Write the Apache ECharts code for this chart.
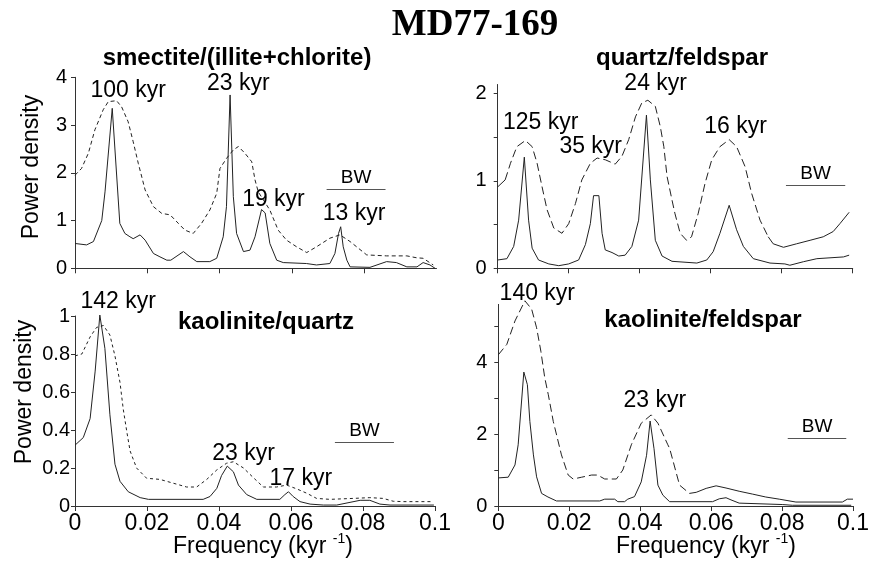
<!DOCTYPE html>
<html>
<head>
<meta charset="utf-8">
<script src="https://cdn.jsdelivr.net/npm/echarts@6/dist/echarts.min.js"></script>
<style>
  html, body { margin: 0; padding: 0; background: #fff; }
  #chart { width: 872px; height: 571px; }
</style>
</head>
<body>
<div id="chart"></div>
<script>
// MD77-169: spectral power density of mineral ratios versus frequency (kyr^-1).
// Each curve is a list of [frequency, power density] pairs.

const smectiteSolid = [[0,0.52],[0.0032,0.49],[0.0051,0.56],[0.0074,1.0],[0.0083,1.6],[0.0103,3.35],[0.0124,0.94],[0.0138,0.73],[0.0152,0.66],[0.0161,0.62],[0.0180,0.70],[0.0194,0.59],[0.0217,0.31],[0.0235,0.24],[0.0254,0.17],[0.0265,0.17],[0.0300,0.35],[0.0318,0.24],[0.0337,0.14],[0.0373,0.14],[0.0392,0.21],[0.0410,0.66],[0.0419,1.29],[0.0429,3.63],[0.0438,1.50],[0.0447,0.73],[0.0466,0.35],[0.0484,0.38],[0.0498,0.66],[0.0516,1.23],[0.0526,1.16],[0.0539,0.52],[0.0558,0.17],[0.0576,0.12],[0.0640,0.10],[0.0668,0.07],[0.0705,0.10],[0.0719,0.31],[0.0729,0.73],[0.0735,0.87],[0.0742,0.45],[0.0752,0.17],[0.0761,0.03],[0.0816,0.02],[0.0862,0.14],[0.0889,0.12],[0.0918,0.03],[0.0946,0.03],[0.0963,0.12],[0.0982,0.07],[0.0996,0.0]];
const smectiteDashed = [[0,1.95],[0.0018,2.09],[0.0037,2.41],[0.0055,2.90],[0.0078,3.32],[0.0092,3.49],[0.0115,3.51],[0.0129,3.38],[0.0147,3.07],[0.0161,2.65],[0.0175,2.20],[0.0194,1.64],[0.0217,1.29],[0.0240,1.15],[0.0263,1.12],[0.0286,0.94],[0.0304,0.80],[0.0327,0.73],[0.0350,0.94],[0.0373,1.22],[0.0392,1.57],[0.0401,2.09],[0.0419,2.30],[0.0438,2.48],[0.0452,2.55],[0.0470,2.41],[0.0489,2.23],[0.0498,1.85],[0.0507,1.60],[0.0539,1.22],[0.0562,0.80],[0.0585,0.59],[0.0613,0.45],[0.0641,0.33],[0.0668,0.45],[0.0705,0.63],[0.0733,0.70],[0.0761,0.56],[0.0779,0.45],[0.0807,0.28],[0.0862,0.26],[0.0918,0.26],[0.0945,0.22],[0.0963,0.21],[0.0991,0.07]];

const quartzFeldsparSolid = [[0,0.095],[0.0026,0.11],[0.0045,0.25],[0.0059,0.55],[0.0075,1.27],[0.0087,0.55],[0.0097,0.23],[0.0115,0.095],[0.0144,0.05],[0.0172,0.03],[0.0200,0.05],[0.0228,0.095],[0.0247,0.27],[0.0261,0.51],[0.0270,0.83],[0.0285,0.83],[0.0294,0.40],[0.0303,0.21],[0.0322,0.18],[0.0341,0.14],[0.0359,0.15],[0.0378,0.25],[0.0397,0.55],[0.0419,1.75],[0.0430,1.01],[0.0444,0.32],[0.0463,0.14],[0.0491,0.08],[0.0561,0.06],[0.0589,0.095],[0.0607,0.19],[0.0626,0.40],[0.0652,0.72],[0.0673,0.44],[0.0692,0.25],[0.0720,0.11],[0.0767,0.06],[0.0809,0.05],[0.0823,0.035],[0.0861,0.075],[0.0899,0.11],[0.0974,0.13],[0.0990,0.15]];
const quartzFeldsparDashed = [[0,0.93],[0.0021,1.01],[0.0036,1.20],[0.0054,1.39],[0.0078,1.46],[0.0097,1.39],[0.0111,1.20],[0.0125,0.93],[0.0139,0.67],[0.0158,0.46],[0.0181,0.40],[0.0200,0.51],[0.0219,0.74],[0.0237,1.01],[0.0261,1.20],[0.0280,1.26],[0.0303,1.24],[0.0331,1.19],[0.0350,1.28],[0.0369,1.47],[0.0388,1.73],[0.0406,1.89],[0.0423,1.92],[0.0444,1.85],[0.0458,1.62],[0.0468,1.39],[0.0477,1.05],[0.0491,0.78],[0.0499,0.63],[0.0514,0.40],[0.0532,0.32],[0.0546,0.36],[0.0565,0.63],[0.0584,0.97],[0.0603,1.24],[0.0626,1.39],[0.0652,1.47],[0.0673,1.39],[0.0697,1.16],[0.0715,0.86],[0.0739,0.55],[0.0762,0.36],[0.0776,0.28],[0.0805,0.24],[0.0842,0.28],[0.0880,0.32],[0.0917,0.36],[0.0945,0.42],[0.0964,0.51],[0.0990,0.64]];

const kaoliniteQuartzSolid = [[0,0.32],[0.0023,0.36],[0.0042,0.46],[0.0056,0.71],[0.0069,1.005],[0.0083,0.83],[0.0097,0.48],[0.0111,0.22],[0.0125,0.13],[0.0148,0.075],[0.0181,0.044],[0.0204,0.035],[0.0356,0.035],[0.0375,0.05],[0.0394,0.093],[0.0407,0.16],[0.0423,0.21],[0.0440,0.18],[0.0454,0.11],[0.0477,0.06],[0.0505,0.035],[0.0569,0.035],[0.0583,0.06],[0.0593,0.075],[0.0606,0.05],[0.0625,0.023],[0.0653,0.01],[0.0690,0.005],[0.0727,0.005],[0.0792,0.03],[0.0819,0.03],[0.0847,0.01],[0.0875,0.005],[0.0997,0.005]];
const kaoliniteQuartzDashed = [[0,0.79],[0.0019,0.80],[0.0042,0.89],[0.0060,0.94],[0.0079,0.95],[0.0097,0.90],[0.0111,0.79],[0.0125,0.65],[0.0134,0.51],[0.0144,0.39],[0.0153,0.29],[0.0171,0.20],[0.0199,0.146],[0.0236,0.14],[0.0273,0.12],[0.0310,0.10],[0.0338,0.10],[0.0366,0.14],[0.0394,0.19],[0.0421,0.225],[0.0440,0.233],[0.0468,0.20],[0.0495,0.15],[0.0523,0.10],[0.0560,0.10],[0.0588,0.11],[0.0616,0.09],[0.0644,0.067],[0.0671,0.04],[0.0708,0.035],[0.0773,0.04],[0.0819,0.044],[0.0856,0.04],[0.0884,0.025],[0.0912,0.023],[0.0995,0.023]];

const kaoliniteFeldsparSolid = [[0,0.78],[0.0028,0.80],[0.0047,1.14],[0.0056,1.70],[0.0072,3.72],[0.0082,3.37],[0.0089,2.35],[0.0099,1.42],[0.0108,0.81],[0.0122,0.35],[0.0140,0.25],[0.0164,0.14],[0.0286,0.14],[0.0300,0.19],[0.0328,0.19],[0.0337,0.12],[0.0356,0.12],[0.0365,0.19],[0.0384,0.26],[0.0403,0.67],[0.0418,1.41],[0.0428,2.36],[0.0439,1.59],[0.0450,0.58],[0.0464,0.30],[0.0483,0.12],[0.0604,0.12],[0.0623,0.20],[0.0642,0.23],[0.0656,0.17],[0.0679,0.08],[0.0802,0.04],[0.0829,0.02],[0.0995,0.02]];
const kaoliniteFeldsparDashed = [[0,4.2],[0.0024,4.49],[0.0047,5.14],[0.0075,5.70],[0.0094,5.47],[0.0108,4.95],[0.0120,4.30],[0.0131,3.56],[0.0141,3.09],[0.0155,2.35],[0.0178,1.42],[0.0197,0.86],[0.0211,0.75],[0.0235,0.80],[0.0263,0.86],[0.0280,0.86],[0.0300,0.75],[0.0333,0.75],[0.0351,1.0],[0.0375,1.70],[0.0403,2.30],[0.0431,2.53],[0.0450,2.30],[0.0478,1.70],[0.0483,1.60],[0.0511,0.58],[0.0539,0.35],[0.0558,0.38],[0.0586,0.49],[0.0614,0.56],[0.0642,0.50],[0.0679,0.41],[0.0717,0.33],[0.0754,0.25],[0.0792,0.19],[0.0839,0.11],[0.0970,0.11],[0.0984,0.19],[0.1,0.19]];

// Peak periods named on each panel
const peaksSmectite = ['100 kyr', '23 kyr', '19 kyr', '13 kyr'];
const peaksQuartzFeldspar = ['125 kyr', '35 kyr', '24 kyr', '16 kyr'];
const peaksKaoliniteQuartz = ['142 kyr', '23 kyr', '17 kyr'];
const peaksKaoliniteFeldspar = ['140 kyr', '23 kyr'];

// Bandwidth (start, end frequency) of each spectrum
const bandwidths = [[0.0696, 0.0859], [0.0812, 0.0979], [0.0722, 0.0886], [0.0816, 0.0981]];

// Axis ticks and labels
const freqTicksFull = [0, 0.02, 0.04, 0.06, 0.08, 0.1];
const freqTicksShort = [0, 0.02, 0.04, 0.06, 0.08];
const powerTicksSmectite = [0, 1, 2, 3, 4];
const powerTicksQuartzFeldspar = [0, 0.5, 1, 1.5, 2];
const powerLabelsQuartzFeldspar = [0, 1, 2];
const powerTicksKaoliniteQuartz = [0, 0.2, 0.4, 0.6, 0.8, 1];
const powerTicksKaoliniteFeldspar = [0, 1, 2, 3, 4, 5];
const powerLabelsKaoliniteFeldspar = [0, 2, 4];

const SANS = 'Liberation Sans, Arial, Helvetica, sans-serif';
const INK = '#222';

// Layout of the four panels
const panels = [
  {
    title: 'smectite/(illite+chlorite)', titleAt: [237, 58],
    solid: smectiteSolid, dashed: smectiteDashed, dash: [4, 3], solidBefore: -1, solidAfter: 2,
    grid: { left: 75, top: 77.3, width: 361.5, height: 191 },
    yMax: 4, yTicks: powerTicksSmectite, yLabels: powerTicksSmectite, yMargin: 8,
    xTicks: freqTicksShort, showX: false,
    peaks: peaksSmectite, peakAt: [[0.0147, 3.73], [0.0452, 3.87], [0.0549, 1.43], [0.0772, 1.15]],
    bw: bandwidths[0], bwLevel: 1.65
  },
  {
    title: 'quartz/feldspar', titleAt: [682, 58],
    solid: quartzFeldsparSolid, dashed: quartzFeldsparDashed, dash: [8, 4], solidBefore: 0.0021, solidAfter: 0.0762,
    grid: { left: 497.7, top: 84.5, width: 355, height: 183.8 },
    yMax: 2.1, yTicks: powerTicksQuartzFeldspar, yLabels: powerLabelsQuartzFeldspar, yMargin: 11,
    xTicks: freqTicksFull, showX: false,
    peaks: peaksQuartzFeldspar, peakAt: [[0.0121, 1.66], [0.0262, 1.39], [0.0445, 2.11], [0.0670, 1.62]],
    bw: bandwidths[1], bwLevel: 0.95
  },
  {
    title: 'kaolinite/quartz', titleAt: [266, 322],
    solid: kaoliniteQuartzSolid, dashed: kaoliniteQuartzDashed, dash: [3, 3], solidBefore: -1, solidAfter: 2,
    grid: { left: 75, top: 316, width: 360, height: 190 },
    yMax: 1, yTicks: powerTicksKaoliniteQuartz, yLabels: powerTicksKaoliniteQuartz, yMargin: 5,
    xTicks: freqTicksFull, showX: true,
    peaks: peaksKaoliniteQuartz, peakAt: [[0.0120, 1.075], [0.0468, 0.277], [0.0627, 0.146]],
    bw: bandwidths[2], bwLevel: 0.335
  },
  {
    title: 'kaolinite/feldspar', titleAt: [703, 320],
    solid: kaoliniteFeldsparSolid, dashed: kaoliniteFeldsparDashed, dash: [8, 4], solidBefore: -1, solidAfter: 0.0539,
    grid: { left: 498.3, top: 304.4, width: 355.6, height: 201.6 },
    yMax: 5.6, yTicks: powerTicksKaoliniteFeldspar, yLabels: powerLabelsKaoliniteFeldspar, yMargin: 11,
    xTicks: freqTicksFull, showX: true,
    peaks: peaksKaoliniteFeldspar, peakAt: [[0.0110, 5.89], [0.0441, 2.94]],
    bw: bandwidths[3], bwLevel: 1.88
  }
];

const lineBase = (i, data, lineType) => ({
  type: 'line', xAxisIndex: i, yAxisIndex: i, data,
  symbol: 'none', showSymbol: false, clip: false, silent: true, z: 3,
  lineStyle: { color: INK, width: 1, type: lineType }
});

const grids = [], xAxes = [], yAxes = [], series = [];

panels.forEach((p, i) => {
  grids.push(Object.assign({ containLabel: false }, p.grid));

  xAxes.push({
    gridIndex: i, type: 'value', min: 0, max: 0.1, interval: 0.02,
    axisLine: { show: true, lineStyle: { color: '#333', width: 1 } },
    axisTick: { show: true, length: 5, customValues: p.xTicks, lineStyle: { color: '#333' } },
    axisLabel: {
      show: p.showX, customValues: freqTicksFull, margin: 6,
      fontSize: 23, color: '#000', fontFamily: SANS,
      formatter: v => String(Math.round(v * 1000) / 1000)
    },
    splitLine: { show: false }
  });

  yAxes.push({
    gridIndex: i, type: 'value', min: 0, max: p.yMax,
    axisLine: { show: true, lineStyle: { color: '#333', width: 1 } },
    axisTick: { show: true, length: 4, customValues: p.yTicks, lineStyle: { color: '#333' } },
    axisLabel: {
      show: true, customValues: p.yLabels, margin: p.yMargin,
      fontSize: 20, color: '#000', fontFamily: SANS,
      formatter: v => String(Math.round(v * 100) / 100)
    },
    splitLine: { show: false }
  });

  // solid spectrum
  series.push(lineBase(i, p.solid, 'solid'));

  // dashed spectrum, drawn solid outside its dashed stretch
  const head = p.dashed.filter(d => d[0] <= p.solidBefore);
  const mid = p.dashed.filter(d => d[0] >= Math.max(p.solidBefore, 0) && d[0] <= p.solidAfter);
  const tail = p.dashed.filter(d => d[0] >= p.solidAfter);
  series.push(lineBase(i, mid, p.dash));
  if (head.length > 1) series.push(lineBase(i, head, 'solid'));
  if (tail.length > 1) series.push(lineBase(i, tail, 'solid'));

  // peak names and bandwidth bar
  series.push({
    type: 'scatter', xAxisIndex: i, yAxisIndex: i, clip: false, silent: true, z: 5,
    symbolSize: 0,
    itemStyle: { color: '#000' },
    data: p.peakAt.map((a, k) => ({ value: a, name: p.peaks[k] })),
    label: {
      show: true, position: 'inside', formatter: '{b}', fontSize: 23, color: '#000', fontFamily: SANS,
      textBorderWidth: 0, textBorderColor: 'transparent', opacity: 1
    },
    markLine: {
      silent: true, symbol: ['none', 'none'], animation: false,
      lineStyle: { color: '#555', width: 1, type: 'solid' },
      label: {
        show: true, position: 'insideMiddleTop', formatter: 'BW', distance: 2, fontSize: 19, color: '#000', fontFamily: SANS,
        textBorderWidth: 0
      },
      data: [[{ coord: [p.bw[0], p.bwLevel] }, { coord: [p.bw[1], p.bwLevel] }]]
    }
  });
});

const graphics = [
  { type: 'text', x: 475, y: 25, silent: true,
    style: { text: 'MD77-169', font: 'bold 37px "Liberation Serif", "Times New Roman", serif', fill: '#000', textAlign: 'center', textVerticalAlign: 'middle' } },
  { type: 'text', x: 32, y: 167, rotation: Math.PI / 2, silent: true,
    style: { text: 'Power density', font: '23px ' + SANS, fill: '#000', textAlign: 'center', textVerticalAlign: 'middle' } },
  { type: 'text', x: 25, y: 392, rotation: Math.PI / 2, silent: true,
    style: { text: 'Power density', font: '23px ' + SANS, fill: '#000', textAlign: 'center', textVerticalAlign: 'middle' } }
];
panels.forEach(p => {
  graphics.push({ type: 'text', x: p.titleAt[0], y: p.titleAt[1], silent: true,
    style: { text: p.title, font: 'bold 24px ' + SANS, fill: '#000', textAlign: 'center', textVerticalAlign: 'middle' } });
});
[263, 706].forEach(cx => {
  graphics.push({ type: 'text', x: cx, y: 545, silent: true,
    style: {
      text: '{n|Frequency (kyr }{s|-1}{n|)}', textAlign: 'center', textVerticalAlign: 'middle', fill: '#000',
      rich: {
        n: { fontSize: 23, fontFamily: SANS, lineHeight: 26, verticalAlign: 'bottom' },
        s: { fontSize: 14, fontFamily: SANS, lineHeight: 26, verticalAlign: 'top' }
      }
    } });
});

const chart = echarts.init(document.getElementById('chart'), null, { renderer: 'canvas' });
chart.setOption({
  backgroundColor: '#fff',
  animation: false,
  grid: grids,
  xAxis: xAxes,
  yAxis: yAxes,
  series: series,
  graphic: graphics
});
</script>
</body>
</html>
